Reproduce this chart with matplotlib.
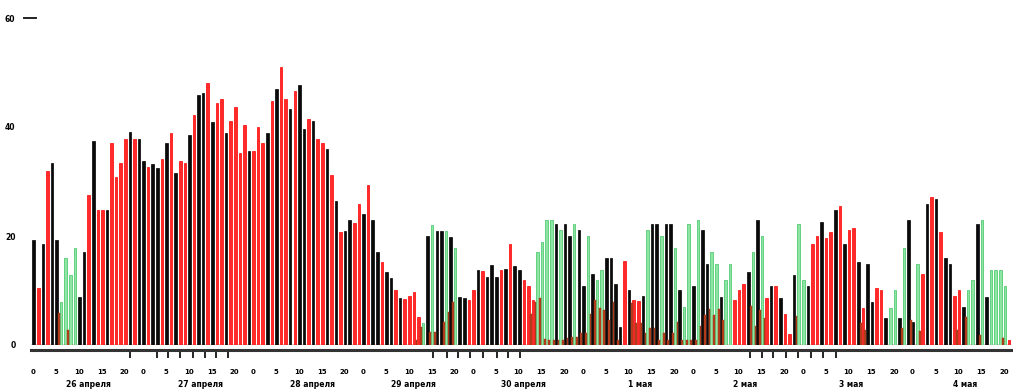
import matplotlib
matplotlib.use("Agg")
import matplotlib.pyplot as plt
from matplotlib.lines import Line2D
import numpy as np

# hourly values, 26 April 00:00 .. 4 May 21:00
main_vals = [
    19.3, 10.5, 18.5, 31.9, 33.4, 19.3, 7.9, 16.0, 12.8, 17.8,
    8.8, 17.1, 27.5, 37.4, 24.8, 24.8, 24.8, 37.1, 30.8, 33.4,
    37.8, 39.1, 37.8, 37.8, 33.8, 32.7, 33.2, 32.5, 34.1, 37.1,
    38.9, 31.6, 33.8, 33.4, 38.5, 42.2, 45.9, 46.2, 48.1, 40.9,
    44.4, 45.1, 38.9, 41.1, 43.7, 35.2, 40.4, 35.6, 35.6, 40.0,
    37.1, 38.9, 44.8, 47.0, 51.0, 45.1, 43.3, 46.6, 47.7, 39.6,
    41.5, 41.1, 37.8, 37.1, 36.0, 31.2, 26.4, 20.7, 20.9, 22.9,
    22.4, 25.9, 24.0, 29.4, 22.9, 17.1, 15.2, 13.4, 12.3, 10.1,
    8.6, 8.4, 9.0, 9.7, 5.1, 4.0, 20.0, 22.0, 20.9, 20.9,
    20.9, 19.8, 17.8, 8.8, 8.6, 8.3, 10.1, 13.8, 13.6, 12.5,
    14.7, 12.5, 13.8, 13.9, 18.5, 14.5, 13.8, 11.9, 10.8, 8.3,
    17.1, 18.9, 22.9, 22.9, 22.2, 21.1, 22.2, 20.0, 22.2, 21.1,
    10.8, 20.0, 13.0, 11.9, 13.8, 16.0, 16.0, 11.2, 3.3, 15.4,
    10.1, 8.3, 8.1, 9.0, 21.1, 22.2, 22.2, 20.0, 22.2, 22.2,
    17.8, 10.1, 7.0, 22.2, 10.8, 22.9, 21.1, 14.9, 17.1, 14.9,
    8.8, 11.9, 14.9, 8.3, 10.1, 11.2, 13.4, 17.1, 22.9, 20.0,
    8.6, 10.8, 10.8, 8.6, 5.7, 2.0, 12.8, 22.2, 11.9, 10.8,
    18.5, 20.0, 22.6, 19.6, 20.7, 24.8, 25.5, 18.5, 21.1, 21.5,
    15.2, 6.8, 14.9, 7.9, 10.5, 10.1, 5.0, 6.8, 10.1, 5.0,
    17.8, 22.9, 4.2, 14.9, 13.0, 25.9, 27.2, 26.8, 20.7, 16.0,
    14.9, 9.0, 10.1, 7.0, 10.1, 11.9, 22.2, 22.9, 8.8, 13.8,
    13.8, 13.8, 10.8, 0.9,
]
main_cats = (
    "krkrkkgggg" "kkrkrrkrrr" "rkrkkrkkrk" "rkrrkrkkrk" "rrkrrrrkrr"
    "rkrkrrkrkk" "rkrrkrkrkk" "rrkrkkrkkr" "krrrrgkgkk" "gkgkkrrkrk"
    "kkrkrkkrrr" "ggggkgkkgk" "kgkggkkkkr" "krrkgkkgkk" "gkggkgkkgg"
    "kggrrrkgkg" "rkrkrrkggk" "rrkrrkrkrr" "krkkrrkggk" "gkkgrkrkrk"
    "krrkggkgkg" "gggr"
)
second_vals = [
    0, 0, 0, 0, 0, 0, 5.9, 0, 2.8, 0,
    0, 0, 0, 0, 0, 0, 0, 0, 0, 0,
    0, 0, 0, 0, 0, 0, 0, 0, 0, 0,
    0, 0, 0, 0, 0, 0, 0, 0, 0, 0,
    0, 0, 0, 0, 0, 0, 0, 0, 0, 0,
    0, 0, 0, 0, 0, 0, 0, 0, 0, 0,
    0, 0, 0, 0, 0, 0, 0, 0, 0, 0,
    0, 0, 0, 0, 0, 0, 0, 0, 0, 0,
    0, 0, 0, 0, 0.9, 3.3, 0, 2.4, 2.4, 0,
    4.2, 6.1, 7.9, 0, 0, 0, 0, 0, 0, 0,
    0, 0, 0, 0, 0, 0, 0, 0, 0, 5.7,
    7.9, 8.6, 1.1, 0.9, 0.9, 0.9, 0.9, 1.3, 1.5, 1.5,
    2.2, 2.2, 5.7, 8.3, 6.8, 6.4, 4.6, 7.9, 0.9, 0,
    0, 7.7, 4.0, 4.0, 2.2, 3.1, 3.1, 0.9, 2.2, 0.9,
    2.2, 4.2, 0.9, 0.9, 0.9, 0.9, 3.5, 5.5, 6.6, 5.5,
    6.6, 4.6, 0, 0, 0, 0, 0, 7.2, 3.5, 6.4,
    5.0, 0, 0, 0, 0, 0, 0, 5.3, 0, 0,
    0, 0, 0, 0, 0, 0, 0, 0, 0, 0,
    0, 4.0, 2.8, 0, 0, 0, 0, 0, 0, 0,
    3.1, 0, 4.6, 0, 2.6, 0, 0, 0, 0, 0,
    0, 0, 2.8, 0, 5.1, 0, 0, 1.8, 0, 0,
    0, 0, 1.3, 0,
]

day_labels = ["26 апреля", "27 апреля", "28 апреля", "29 апреля", "30 апреля",
              "1 мая", "2 мая", "3 мая", "4 мая"]
day_label_pos = [12, 36.5, 61, 83, 107, 132.5, 155.5, 178.5, 203.5]
hour_labels = ["0", "5", "10", "15", "20"]
y_ticks = [0, 20, 40, 60]
minor_tick_pos = [21.2, 24, 27, 29.5, 32, 35, 37.5, 40, 42.6,
                  87.3, 90.4, 92.8, 95.4, 98.3, 101.3, 103.7, 106.3,
                  156.5, 159.2, 161.6, 164.4, 167, 169.9, 172.5, 175.3]

face = {"r": "#ff2a2a", "k": "#0a0a0a", "g": "#8fe6a4"}
edge = {"r": "#ff0000", "k": "#000000", "g": "#3cc461"}

W, H = 1013, 389
fig = plt.figure(figsize=(W / 100, H / 100), dpi=100)
ax = fig.add_axes([30.7 / W, 44 / H, (1011 - 30.7) / W, 327 / H])

x = np.arange(len(main_vals))
ax.bar(x + 0.15, main_vals, width=0.56,
       color=[face[c] for c in main_cats],
       edgecolor=[edge[c] for c in main_cats], linewidth=0.5, zorder=2)
ax.bar(x - 0.3, second_vals, width=0.38, color="#b83e1c",
       edgecolor="#9a3214", linewidth=0.3, zorder=3)

ax.set_xlim(-0.5, len(main_vals) - 0.5)
ax.set_ylim(0, 60)

for s in ["top", "right", "left"]:
    ax.spines[s].set_visible(False)
ax.spines["bottom"].set_position(("outward", 3.6))
ax.spines["bottom"].set_linewidth(2.2)
ax.spines["bottom"].set_color("#333333")

# hour ticks
ndays = len(day_labels)
hpos, hlab = [], []
for d in range(ndays):
    for h, lab in zip([0, 5, 10, 15, 20], hour_labels):
        p = d * 24 + h
        if p < len(main_vals):
            hpos.append(p)
            hlab.append(lab)
ax.set_xticks(hpos)
ax.set_xticklabels(hlab, fontsize=5, fontweight="bold")
ax.set_xticks(minor_tick_pos, minor=True)
ax.tick_params(axis="x", which="major", length=0, pad=14)
ax.tick_params(axis="x", which="minor", length=6, width=1.2, color="black")

for lab, p in zip(day_labels, day_label_pos):
    ax.text(p, -0.12, lab, transform=ax.get_xaxis_transform(),
            ha="center", va="center", fontsize=5.5, fontweight="bold")

ax.set_yticks(y_ticks)
ax.set_yticklabels([str(v) for v in y_ticks], fontsize=5.5, fontweight="bold")
ax.tick_params(axis="y", length=0, pad=11)

# short dash next to the top y label
fig.add_artist(Line2D([24 / W, 36 / W], [1 - 18 / H, 1 - 18 / H],
                      color="#222222", linewidth=1.4))

fig.savefig("out.png", dpi=100)
